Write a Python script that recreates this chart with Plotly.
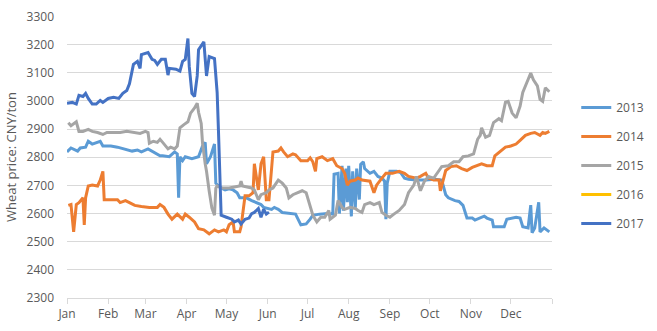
import pandas as pd
import plotly.graph_objects as go

# ---- data (day-of-year offsets from 1 Jan, price in CNY/ton) ----
months = ["Jan", "Feb", "Mar", "Apr", "May", "Jun", "Jul", "Aug", "Sep", "Oct", "Nov", "Dec"]
series_names = ["2013", "2014", "2015", "2016", "2017"]
series_colors = ["#5B9BD5", "#ED7D31", "#A5A5A5", "#FFC000", "#4472C4"]

d2013 = [0, 3, 8, 10, 14, 16, 19, 22, 25, 27, 33, 38, 42, 45, 49, 53, 56, 61, 65, 70, 72, 77, 81, 83, 84, 85, 87, 89,
         94, 99, 102, 104, 105, 108, 111, 112, 114, 116, 119, 122, 125, 128, 130, 135, 139, 142, 146, 148, 154, 156,
         159, 162, 167, 172, 176, 180, 183, 185, 190, 196, 200, 201, 204, 205, 207, 208, 210, 211, 212, 214, 215, 217,
         218, 220, 221, 223, 224, 228, 231, 234, 237, 239, 240, 241, 243, 248, 251, 254, 257, 263, 270, 277, 282, 283,
         285, 287, 292, 295, 298, 301, 305, 307, 311, 314, 316, 320, 321, 325, 329, 331, 338, 341, 343, 347, 349, 350,
         352, 355, 356, 359, 363]
v2013 = [2819, 2833, 2822, 2833, 2836, 2857, 2847, 2853, 2857, 2840, 2840, 2836, 2830, 2826, 2822, 2826, 2819, 2830,
         2819, 2805, 2805, 2802, 2819, 2812, 2656, 2802, 2788, 2802, 2795, 2802, 2840, 2853, 2777, 2802, 2847, 2708,
         2698, 2691, 2684, 2688, 2684, 2674, 2656, 2656, 2646, 2639, 2632, 2622, 2615, 2622, 2615, 2604, 2601, 2598,
         2560, 2563, 2580, 2594, 2598, 2600, 2598, 2740, 2743, 2600, 2770, 2610, 2760, 2640, 2770, 2590, 2750, 2620,
         2760, 2650, 2775, 2784, 2760, 2743, 2750, 2732, 2726, 2715, 2580, 2708, 2750, 2750, 2746, 2726, 2722, 2719,
         2719, 2722, 2719, 2698, 2667, 2656, 2646, 2643, 2629, 2584, 2584, 2577, 2584, 2591, 2584, 2577, 2553, 2553,
         2553, 2580, 2587, 2584, 2553, 2549, 2630, 2532, 2549, 2640, 2535, 2549, 2535]

d2014 = [1, 3, 5, 7, 9, 12, 13, 14, 16, 19, 23, 25, 27, 28, 33, 38, 40, 44, 47, 51, 56, 62, 68, 70, 73, 76, 79, 83, 87,
         89, 92, 96, 99, 103, 107, 111, 114, 118, 120, 122, 125, 126, 130, 131, 134, 137, 140, 141, 144, 146, 148, 150,
         152, 154, 155, 159, 161, 163, 166, 170, 172, 176, 178, 181, 183, 185, 187, 188, 192, 196, 200, 203, 207, 209,
         211, 213, 217, 219, 222, 228, 231, 233, 237, 240, 245, 250, 254, 257, 263, 266, 270, 272, 276, 280, 281, 283,
         285, 289, 293, 297, 301, 305, 309, 312, 316, 320, 322, 326, 330, 334, 338, 341, 345, 349, 352, 356, 358, 360,
         363]
v2014 = [2629, 2632, 2535, 2632, 2639, 2656, 2560, 2656, 2698, 2701, 2698, 2719, 2750, 2649, 2649, 2649, 2639, 2646,
         2639, 2629, 2625, 2622, 2622, 2632, 2622, 2598, 2580, 2598, 2580, 2598, 2587, 2570, 2546, 2542, 2528, 2542,
         2535, 2542, 2535, 2560, 2570, 2535, 2535, 2553, 2663, 2663, 2674, 2777, 2684, 2777, 2802, 2649, 2649, 2777,
         2819, 2822, 2833, 2819, 2802, 2812, 2809, 2788, 2788, 2788, 2798, 2784, 2750, 2795, 2802, 2788, 2795, 2770,
         2760, 2743, 2701, 2715, 2719, 2726, 2719, 2715, 2674, 2701, 2726, 2743, 2743, 2750, 2743, 2732, 2726, 2732,
         2743, 2726, 2719, 2719, 2681, 2719, 2753, 2767, 2770, 2760, 2753, 2764, 2770, 2777, 2770, 2770, 2805, 2822,
         2836, 2840, 2847, 2860, 2878, 2885, 2888, 2878, 2888, 2885, 2892]

d2015 = [1, 3, 7, 9, 12, 16, 19, 23, 27, 30, 35, 40, 45, 50, 55, 59, 61, 62, 65, 68, 70, 72, 76, 78, 81, 83, 85, 88, 91,
         93, 96, 98, 99, 101, 102, 104, 105, 107, 109, 111, 112, 113, 116, 119, 122, 130, 131, 132, 139, 141, 144, 146,
         150, 152, 155, 159, 162, 165, 167, 170, 174, 177, 180, 183, 185, 188, 191, 194, 197, 198, 202, 204, 207, 209,
         213, 217, 219, 222, 224, 228, 231, 235, 237, 240, 243, 246, 250, 254, 257, 261, 263, 266, 269, 272, 276, 280,
         282, 287, 291, 295, 298, 302, 306, 309, 311, 312, 315, 318, 321, 325, 327, 330, 332, 335, 338, 341, 343, 346,
         349, 351, 354, 356, 358, 360, 363]
v2015 = [2923, 2912, 2926, 2892, 2892, 2899, 2892, 2888, 2881, 2888, 2888, 2888, 2892, 2888, 2885, 2892, 2888, 2850,
         2857, 2853, 2864, 2853, 2830, 2836, 2830, 2840, 2905, 2916, 2926, 2957, 2975, 2992, 2960, 2920, 2850, 2777,
         2750, 2680, 2620, 2594, 2690, 2698, 2691, 2691, 2691, 2698, 2715, 2698, 2691, 2684, 2649, 2667, 2674, 2684,
         2691, 2719, 2708, 2691, 2656, 2667, 2674, 2681, 2674, 2629, 2594, 2570, 2587, 2587, 2611, 2580, 2594, 2646,
         2622, 2615, 2622, 2618, 2611, 2604, 2632, 2639, 2632, 2639, 2604, 2594, 2587, 2598, 2611, 2632, 2674, 2701,
         2732, 2681, 2715, 2732, 2726, 2753, 2767, 2770, 2784, 2784, 2802, 2805, 2812, 2864, 2878, 2905, 2871, 2878,
         2923, 2937, 2930, 2996, 2999, 2957, 2940, 2982, 3030, 3065, 3099, 3075, 3054, 3006, 2999, 3047, 3033]

d2016 = []
v2016 = []

d2017 = [0, 4, 7, 9, 12, 14, 16, 19, 22, 25, 27, 31, 35, 39, 42, 45, 47, 50, 53, 55, 56, 61, 64, 66, 68, 71, 74, 76, 77,
         82, 85, 87, 89, 91, 92, 94, 96, 98, 99, 102, 103, 105, 107, 111, 113, 114, 116, 120, 124, 126, 129, 131, 134,
         137, 139, 141, 144, 146, 148, 150, 152]
v2017 = [2992, 2995, 2989, 3020, 3016, 3027, 3009, 2989, 2989, 3002, 2995, 3009, 3013, 3009, 3027, 3037, 3061, 3130,
         3141, 3116, 3165, 3172, 3148, 3144, 3130, 3148, 3148, 3092, 3116, 3113, 3106, 3141, 3148, 3222, 3123, 3027,
         3016, 3089, 3182, 3200, 3210, 3089, 3158, 3151, 3030, 2892, 2594, 2587, 2580, 2570, 2577, 2563, 2580, 2584,
         2600, 2604, 2618, 2587, 2615, 2598, 2605]

y_ticks = list(range(2300, 3301, 100))

# ---- figure ----
base = pd.Timestamp("2017-01-01")


def to_dates(days):
    return [base + pd.Timedelta(days=d) for d in days]


all_days = [d2013, d2014, d2015, d2016, d2017]
all_vals = [v2013, v2014, v2015, v2016, v2017]

fig = go.Figure()
for name, color, days, vals in zip(series_names, series_colors, all_days, all_vals):
    xs = to_dates(days) if days else [None]
    ys = vals if vals else [None]
    fig.add_trace(go.Scatter(
        x=xs, y=ys, mode="lines", name=name, legendgroup=name,
        line=dict(color=color, width=3),
    ))

month_starts = [base + pd.DateOffset(months=i) for i in range(13)]

fig.update_layout(
    width=657, height=331,
    margin=dict(l=67, r=97, t=8, b=33),
    paper_bgcolor="white", plot_bgcolor="white",
    font=dict(family="Open Sans", size=12, color="#595959"),
    showlegend=True,
    legend=dict(x=1.05, xanchor="left", y=0.47, yanchor="middle",
                tracegroupgap=10, font=dict(size=12, color="#595959"),
                itemwidth=30),
)
fig.update_xaxes(
    type="date",
    range=[month_starts[0], month_starts[-1]],
    tickmode="array", tickvals=month_starts, ticktext=months + [""],
    showgrid=False, showline=True, linecolor="#D9D9D9", linewidth=1,
    ticks="outside", ticklen=5, tickcolor="#D9D9D9",
    tickfont=dict(size=12, color="#595959"),
    zeroline=False,
)
fig.update_yaxes(
    range=[2300, 3302], tickmode="array", tickvals=y_ticks,
    showgrid=True, gridcolor="#D9D9D9", gridwidth=1,
    showline=False, zeroline=False, ticks="",
    ticklabelstandoff=12, ticklabeloverflow="allow",
    tickfont=dict(size=12, color="#595959"),
    title=dict(text="Wheat price: CNY/ton", font=dict(size=13, color="#595959"), standoff=6),
)

fig.write_html("out.html")
